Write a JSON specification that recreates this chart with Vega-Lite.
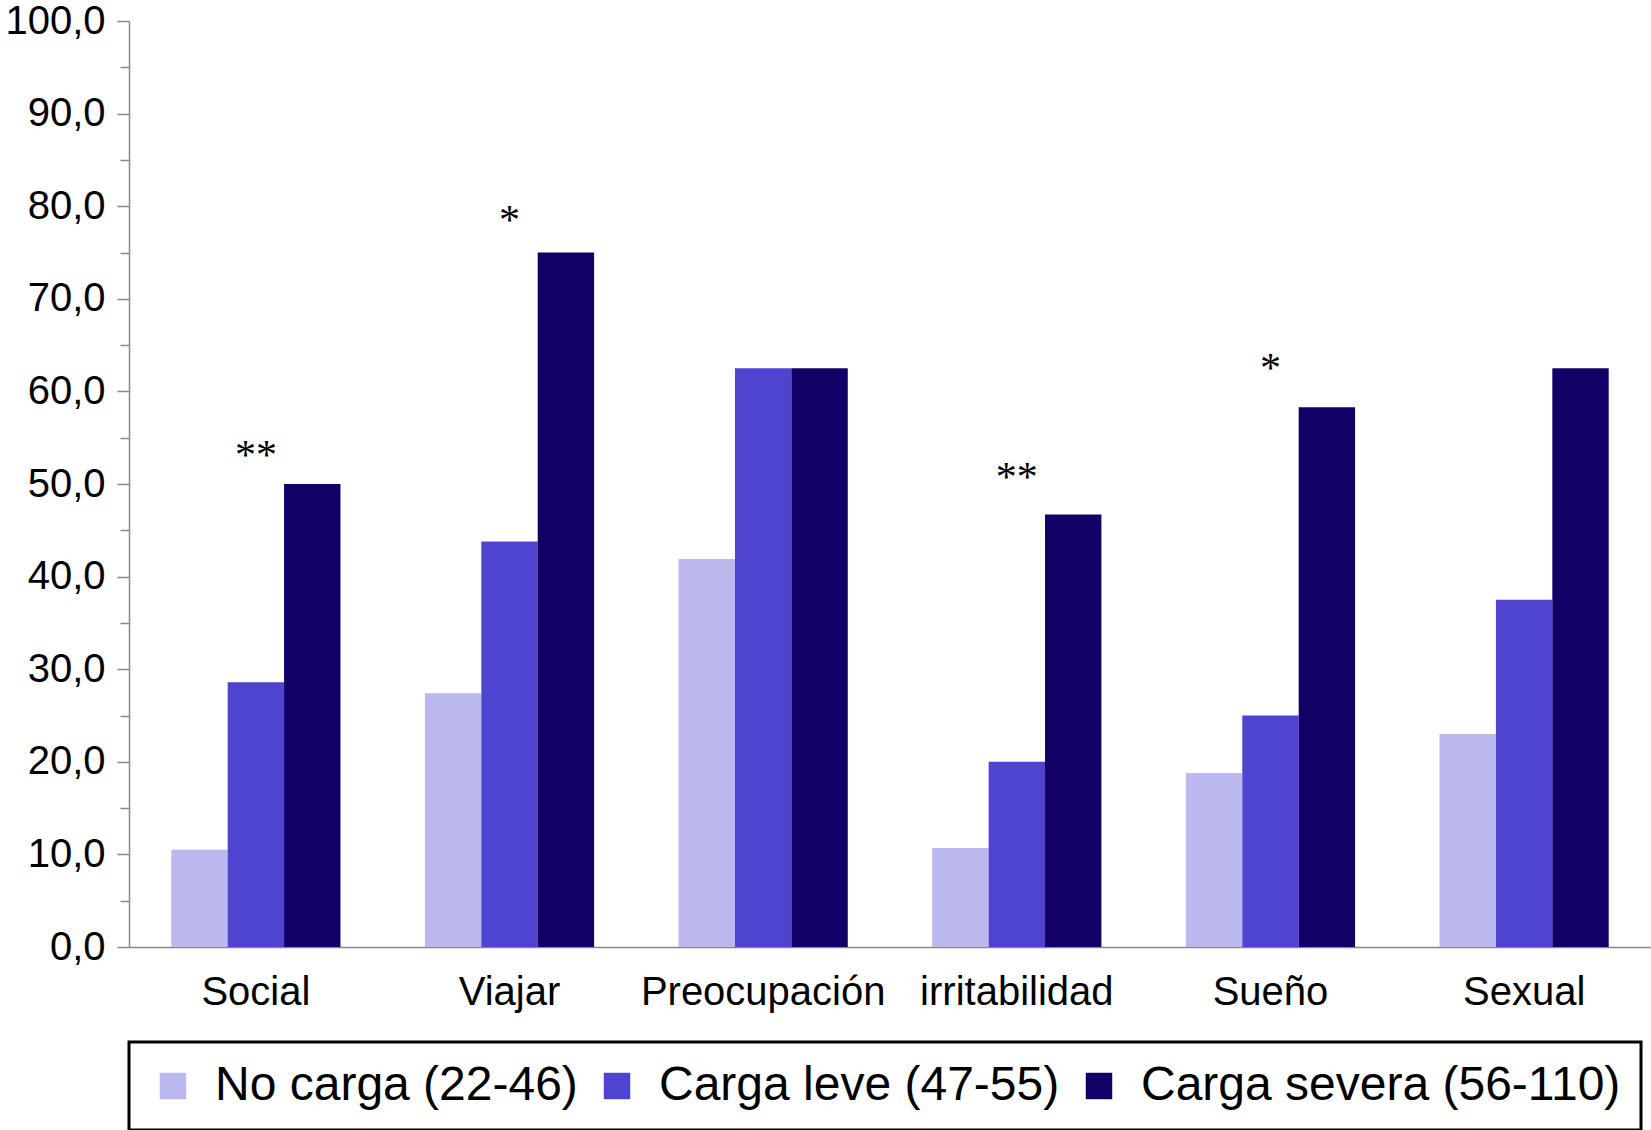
{
  "$schema": "https://vega.github.io/schema/vega-lite/v6.json",
  "width": 1522,
  "height": 926,
  "autosize": {"type": "none"},
  "padding": {"left": 129, "top": 21, "right": 0, "bottom": 183},
  "background": "white",
  "config": {"view": {"stroke": null}, "font": "Liberation Sans"},
  "datasets": {
    "bars": [
      {"categoria": "Social", "grupo": "No carga (22-46)", "valor": 10.5},
      {"categoria": "Social", "grupo": "Carga leve (47-55)", "valor": 28.6},
      {"categoria": "Social", "grupo": "Carga severa (56-110)", "valor": 50.0},
      {"categoria": "Viajar", "grupo": "No carga (22-46)", "valor": 27.4},
      {"categoria": "Viajar", "grupo": "Carga leve (47-55)", "valor": 43.8},
      {"categoria": "Viajar", "grupo": "Carga severa (56-110)", "valor": 75.0},
      {"categoria": "Preocupación", "grupo": "No carga (22-46)", "valor": 41.9},
      {"categoria": "Preocupación", "grupo": "Carga leve (47-55)", "valor": 62.5},
      {"categoria": "Preocupación", "grupo": "Carga severa (56-110)", "valor": 62.5},
      {"categoria": "irritabilidad", "grupo": "No carga (22-46)", "valor": 10.7},
      {"categoria": "irritabilidad", "grupo": "Carga leve (47-55)", "valor": 20.0},
      {"categoria": "irritabilidad", "grupo": "Carga severa (56-110)", "valor": 46.7},
      {"categoria": "Sueño", "grupo": "No carga (22-46)", "valor": 18.8},
      {"categoria": "Sueño", "grupo": "Carga leve (47-55)", "valor": 25.0},
      {"categoria": "Sueño", "grupo": "Carga severa (56-110)", "valor": 58.3},
      {"categoria": "Sexual", "grupo": "No carga (22-46)", "valor": 23.0},
      {"categoria": "Sexual", "grupo": "Carga leve (47-55)", "valor": 37.5},
      {"categoria": "Sexual", "grupo": "Carga severa (56-110)", "valor": 62.5}
    ],
    "sig": [
      {"categoria": "Social", "grupo": "Carga leve (47-55)", "posicion": 53.0, "marca": "**"},
      {"categoria": "Viajar", "grupo": "Carga leve (47-55)", "posicion": 78.4, "marca": "*"},
      {"categoria": "irritabilidad", "grupo": "Carga leve (47-55)", "posicion": 50.7, "marca": "**"},
      {"categoria": "Sueño", "grupo": "Carga leve (47-55)", "posicion": 62.4, "marca": "*"}
    ]
  },
  "layer": [
    {
      "data": {"name": "bars"},
      "mark": {"type": "bar"},
      "encoding": {
        "x": {
          "field": "categoria",
          "type": "nominal",
          "scale": {"domain": ["Social", "Viajar", "Preocupación", "irritabilidad", "Sueño", "Sexual"], "paddingInner": 0.333, "paddingOuter": 0.1667},
          "axis": {"title": null, "labelAngle": 0, "labelFontSize": 40, "labelColor": "black", "labelLimit": 0, "ticks": false, "labelPadding": 25, "domainColor": "#888888", "domainWidth": 1.5, "grid": false}
        },
        "xOffset": {
          "field": "grupo",
          "type": "nominal",
          "scale": {"domain": ["No carga (22-46)", "Carga leve (47-55)", "Carga severa (56-110)"], "paddingInner": 0, "paddingOuter": 0}
        },
        "y": {
          "field": "valor",
          "type": "quantitative",
          "scale": {"domain": [0, 100], "nice": false},
          "axis": {"title": null, "values": [0, 10, 20, 30, 40, 50, 60, 70, 80, 90, 100], "labelExpr": "replace(format(datum.value, '.1f'), '.', ',')", "labelFontSize": 40, "labelColor": "black", "tickSize": 12, "labelPadding": 12, "domainColor": "#888888", "tickColor": "#888888", "domainWidth": 1.5, "tickWidth": 1.5, "grid": false}
        },
        "color": {
          "field": "grupo",
          "type": "nominal",
          "scale": {"domain": ["No carga (22-46)", "Carga leve (47-55)", "Carga severa (56-110)"], "range": ["#BAB8EE", "#4F44D0", "#130066"]},
          "legend": {
            "title": null,
            "orient": "bottom",
            "direction": "horizontal",
            "symbolType": "square",
            "symbolSize": 700,
            "symbolStrokeWidth": 0,
            "labelFontSize": 48,
            "labelColor": "black",
            "labelOffset": 18,
            "labelLimit": 0,
            "columnPadding": 15,
            "padding": 20,
            "offset": 30,
            "strokeColor": "black",
            "encode": {
              "legend": {"update": {"strokeWidth": {"value": 3}}}
            }
          }
        }
      }
    },
    {
      "data": {"name": "sig"},
      "mark": {"type": "text", "font": "Liberation Serif", "fontSize": 42, "baseline": "middle", "align": "center", "color": "black"},
      "encoding": {
        "x": {"field": "categoria", "type": "nominal"},
        "xOffset": {"field": "grupo", "type": "nominal"},
        "y": {
          "field": "posicion",
          "type": "quantitative",
          "axis": {"title": null, "orient": "left", "values": [5, 15, 25, 35, 45, 55, 65, 75, 85, 95], "labels": false, "domain": false, "tickSize": 9, "tickColor": "#888888", "tickWidth": 1.5, "grid": false}
        },
        "text": {"field": "marca"}
      }
    }
  ],
  "resolve": {"axis": {"y": "independent"}}
}
